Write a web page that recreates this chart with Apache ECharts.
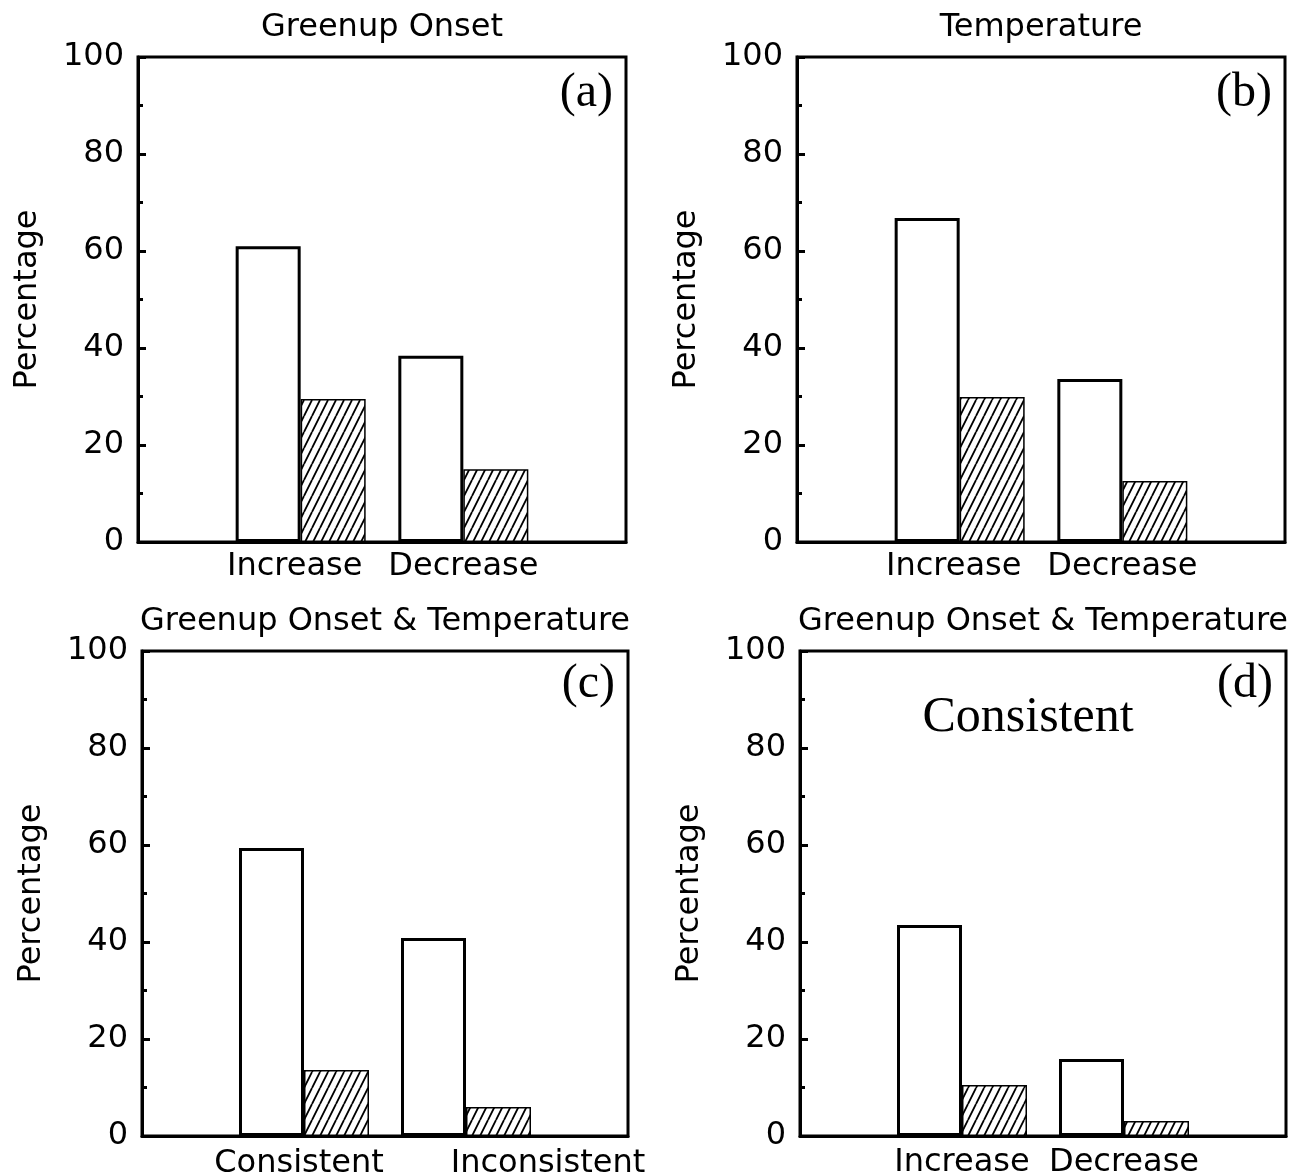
<!DOCTYPE html>
<html>
<head>
<meta charset="utf-8">
<script src="https://cdn.jsdelivr.net/npm/echarts@6/dist/echarts.min.js"></script>
<style>
  html, body { margin: 0; padding: 0; background: #fff; }
  #chart { width: 1311px; height: 1175px; }
</style>
</head>
<body>
<div id="chart"></div>
<script>
// categories (empty slots pad the axis like the original x range 0..3)
const catsChange = ['', 'Increase', 'Decrease', ''];
const catsAgree = ['', 'Consistent', 'Inconsistent', ''];

// percentages, open bars and hatched bars
const onsetOpen = [61.0, 38.4];
const onsetHatch = [29.5, 15.0];
const tempOpen = [66.8, 33.6];
const tempHatch = [29.9, 12.6];
const bothOpen = [59.4, 40.8];
const bothHatch = [13.6, 6.0];
const consOpen = [43.5, 15.9];
const consHatch = [10.5, 3.1];

const titles = ['Greenup Onset', 'Temperature', 'Greenup Onset & Temperature', 'Greenup Onset & Temperature'];
const tags = ['(a)', '(b)', '(c)', '(d)'];

const sans = '"DejaVu Sans", sans-serif';
const serif = '"Liberation Serif", "DejaVu Serif", serif';

function makeHatch() {
    const w = 8, h = 16;
    const c = document.createElement('canvas');
    c.width = w; c.height = h;
    const ctx = c.getContext('2d');
    ctx.fillStyle = '#fff';
    ctx.fillRect(0, 0, w, h);
    ctx.strokeStyle = '#000';
    ctx.lineWidth = 1.8;
    ctx.beginPath();
    for (let k = -1; k <= 1; k++) {
        ctx.moveTo(k * w, h);
        ctx.lineTo(k * w + w, 0);
    }
    ctx.stroke();
    return c;
}
const hatch = makeHatch();

function pad(vals) {
    return ['-', vals[0], vals[1], '-'];
}

// some tick labels sit a little off the bar-pair centres in the original
function shiftLabels(cats, shifts) {
    return cats.map((c, i) => {
        const s = shifts[i] || 0;
        if (!s) return c;
        return { value: c, textStyle: { padding: s > 0 ? [0, 0, 0, 2 * s] : [0, -2 * s, 0, 0] } };
    });
}

const panels = [
    { left: 138, top: 57, width: 488, height: 485, margin: 9, cats: shiftLabels(catsChange, [0, -6, 0, 0]), open: onsetOpen, hatched: onsetHatch },
    { left: 797, top: 57, width: 488, height: 485, margin: 9, cats: shiftLabels(catsChange, [0, -6, 0, 0]), open: tempOpen, hatched: tempHatch },
    { left: 142, top: 651, width: 486, height: 485, margin: 12, cats: shiftLabels(catsAgree, [0, -5, 82, 0]), open: bothOpen, hatched: bothHatch },
    { left: 800, top: 651, width: 486, height: 485, margin: 11, cats: catsChange, open: consOpen, hatched: consHatch }
];

let chart = echarts.init(document.getElementById('chart'), null, { renderer: 'canvas' });

const grid = [], xAxis = [], yAxis = [], series = [], graphic = [];

panels.forEach((p, i) => {
    grid.push({
        left: p.left, top: p.top, width: p.width, height: p.height,
        outerBoundsMode: 'none', containLabel: false,
        show: true, borderColor: '#000', borderWidth: 3, backgroundColor: 'transparent'
    });
    xAxis.push({
        type: 'category', gridIndex: i, data: p.cats, boundaryGap: false,
        axisLine: { lineStyle: { color: '#000', width: 3 } },
        axisTick: { show: false },
        axisLabel: { color: '#000', fontSize: 32, fontFamily: sans, margin: p.margin, interval: 0 },
        splitLine: { show: false }
    });
    yAxis.push({
        type: 'value', gridIndex: i, min: 0, max: 100, interval: 20,
        name: 'Percentage', nameLocation: 'middle', nameGap: 94,
        nameTextStyle: { color: '#000', fontSize: 32, fontFamily: sans },
        axisLine: { show: true, lineStyle: { color: '#000', width: 3 } },
        axisTick: { show: true, inside: true, length: 8, lineStyle: { color: '#000', width: 3 } },
        minorTick: { show: true, splitNumber: 2, length: 5, lineStyle: { color: '#000', width: 3 } },
        axisLabel: { color: '#000', fontSize: 32, fontFamily: sans, margin: 14 },
        splitLine: { show: false }
    });
    series.push({
        type: 'bar', xAxisIndex: i, yAxisIndex: i, data: pad(p.open),
        barWidth: 65, barGap: '0%',
        itemStyle: { color: '#fff', borderColor: '#000', borderWidth: 3 },
        emphasis: { disabled: true }
    });
    series.push({
        type: 'bar', xAxisIndex: i, yAxisIndex: i, data: pad(p.hatched),
        barWidth: 65, barGap: '0%',
        itemStyle: { color: { image: hatch, repeat: 'repeat' }, borderColor: '#000', borderWidth: 1.5 },
        emphasis: { disabled: true }
    });
    graphic.push({
        type: 'text', x: p.left + p.width / 2, y: p.top - 29,
        style: { text: titles[i], font: '32px ' + sans, fill: '#000', textAlign: 'center', textVerticalAlign: 'middle' }
    });
    graphic.push({
        type: 'text', x: p.left + p.width - 13, y: p.top + (i < 2 ? 36 : 33),
        style: { text: tags[i], font: '48px ' + serif, fill: '#000', textAlign: 'right', textVerticalAlign: 'middle' }
    });
});

graphic.push({
    type: 'text', x: 1028, y: 718,
    style: { text: 'Consistent', font: '50px ' + serif, fill: '#000', textAlign: 'center', textVerticalAlign: 'middle' }
});

let option = {
    backgroundColor: '#fff',
    animation: false,
    grid: grid,
    xAxis: xAxis,
    yAxis: yAxis,
    series: series,
    graphic: graphic
};

option && chart.setOption(option);
</script>
</body>
</html>
